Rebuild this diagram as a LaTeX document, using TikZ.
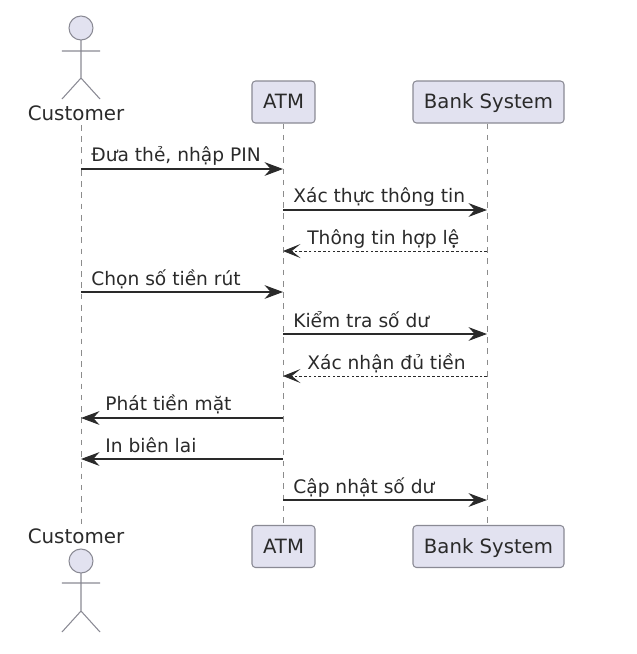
\documentclass[tikz,border=0pt]{standalone}
\usepackage{fontspec}
\setmainfont{DejaVu Sans}
\usetikzlibrary{arrows.meta}
\definecolor{partfill}{HTML}{E2E2F0}
\definecolor{partline}{HTML}{8A8A94}
\definecolor{lifeline}{HTML}{8C8C8C}
\definecolor{msgline}{HTML}{2A2A2A}
\definecolor{txtcol}{HTML}{2A2A2A}
\tikzset{
	part/.style={draw=partline, fill=partfill, rounded corners=2pt, line width=0.6pt, minimum height=42*0.02cm, inner sep=0pt, text height=9.4pt, text depth=2pt, text=txtcol, font=\fontsize{11.2}{13}\selectfont},
	actorname/.style={text=txtcol, font=\fontsize{11.3}{13}\selectfont, inner sep=0pt},
	actorline/.style={draw=partline, line width=0.6pt},
	life/.style={draw=lifeline, line width=0.55pt, dash pattern=on 3.2pt off 3.2pt},
	msg/.style={draw=msgline, line width=0.65pt, -{Stealth[length=10.5pt, width=7.8pt, inset=3.5pt, color=msgline]}},
	reply/.style={draw=msgline, line width=0.55pt, dash pattern=on 1.5pt off 1.2pt, -{Stealth[length=10pt, width=8pt, inset=5pt, color=msgline, line width=0.5pt, sep=0pt]}},
	msglabel/.style={anchor=base west, inner sep=0pt, text=txtcol, font=\fontsize{10.6}{12}\selectfont}
}
\begin{document}
\begin{tikzpicture}[x=0.02cm, y=-0.02cm]
	\useasboundingbox (0,0) rectangle (637,654);
	% actor on top
	\draw[actorline, fill=partfill] (81,28) circle (12);
	\draw[actorline] (81,40) -- (81,78) (62,51) -- (100,51) (62,99) -- (81,78) -- (100,99);
	\node[actorname] (custTop) at (76,113) {Customer};
	% actor at the bottom
	\node[actorname] (custBot) at (76,536) {Customer};
	\draw[actorline, fill=partfill] (81,561) circle (12);
	\draw[actorline] (81,573) -- (81,611) (62,583) -- (100,583) (62,632) -- (81,611) -- (100,632);
	% boxes
	\node[part, minimum width=63*0.02cm] (atmTop) at (283.5,102) {ATM};
	\node[part, minimum width=151*0.02cm] (bankTop) at (488.5,102) {Bank System};
	\node[part, minimum width=63*0.02cm] (atmBot) at (283.5,546.5) {ATM};
	\node[part, minimum width=151*0.02cm] (bankBot) at (488.5,546.5) {Bank System};
	% lifelines
	\coordinate (custA) at (81,125);
	\coordinate (custB) at (81,525);
	\draw[life] (custA) -- (custB);
	\draw[life] (atmTop.south -| 283,0) -- (atmBot.north -| 283,0);
	\draw[life] (bankTop.south -| 487,0) -- (bankBot.north -| 487,0);
	% one coordinate per message on each lifeline
	\foreach \n/\y in {1/169, 2/210, 3/251, 4/292, 5/334, 6/376, 7/418, 8/459, 9/500} {
		\coordinate (C\n) at (81,\y);
		\coordinate (A\n) at (283,\y);
		\coordinate (B\n) at (487,\y);
	}
	\draw[msg] (C1) -- (A1);
	\draw[msg] (A2) -- (B2);
	\draw[reply] (B3) -- (A3);
	\draw[msg] (C4) -- (A4);
	\draw[msg] (A5) -- (B5);
	\draw[reply] (B6) -- (A6);
	\draw[msg] (A7) -- (C7);
	\draw[msg] (A8) -- (C8);
	\draw[msg] (A9) -- (B9);
	\node[msglabel] (lab1) at (91,161) {Đưa thẻ, nhập PIN};
	\node[msglabel] (lab2) at (293,202) {Xác thực thông tin};
	\node[msglabel] (lab3) at (307,244) {Thông tin hợp lệ};
	\node[msglabel] (lab4) at (91,285) {Chọn số tiền rút};
	\node[msglabel] (lab5) at (293,327) {Kiểm tra số dư};
	\node[msglabel] (lab6) at (307,369) {Xác nhận đủ tiền};
	\node[msglabel] (lab7) at (105,410) {Phát tiền mặt};
	\node[msglabel] (lab8) at (105,452) {In biên lai};
	\node[msglabel] (lab9) at (293,493) {Cập nhật số dư};
\end{tikzpicture}
\end{document}
